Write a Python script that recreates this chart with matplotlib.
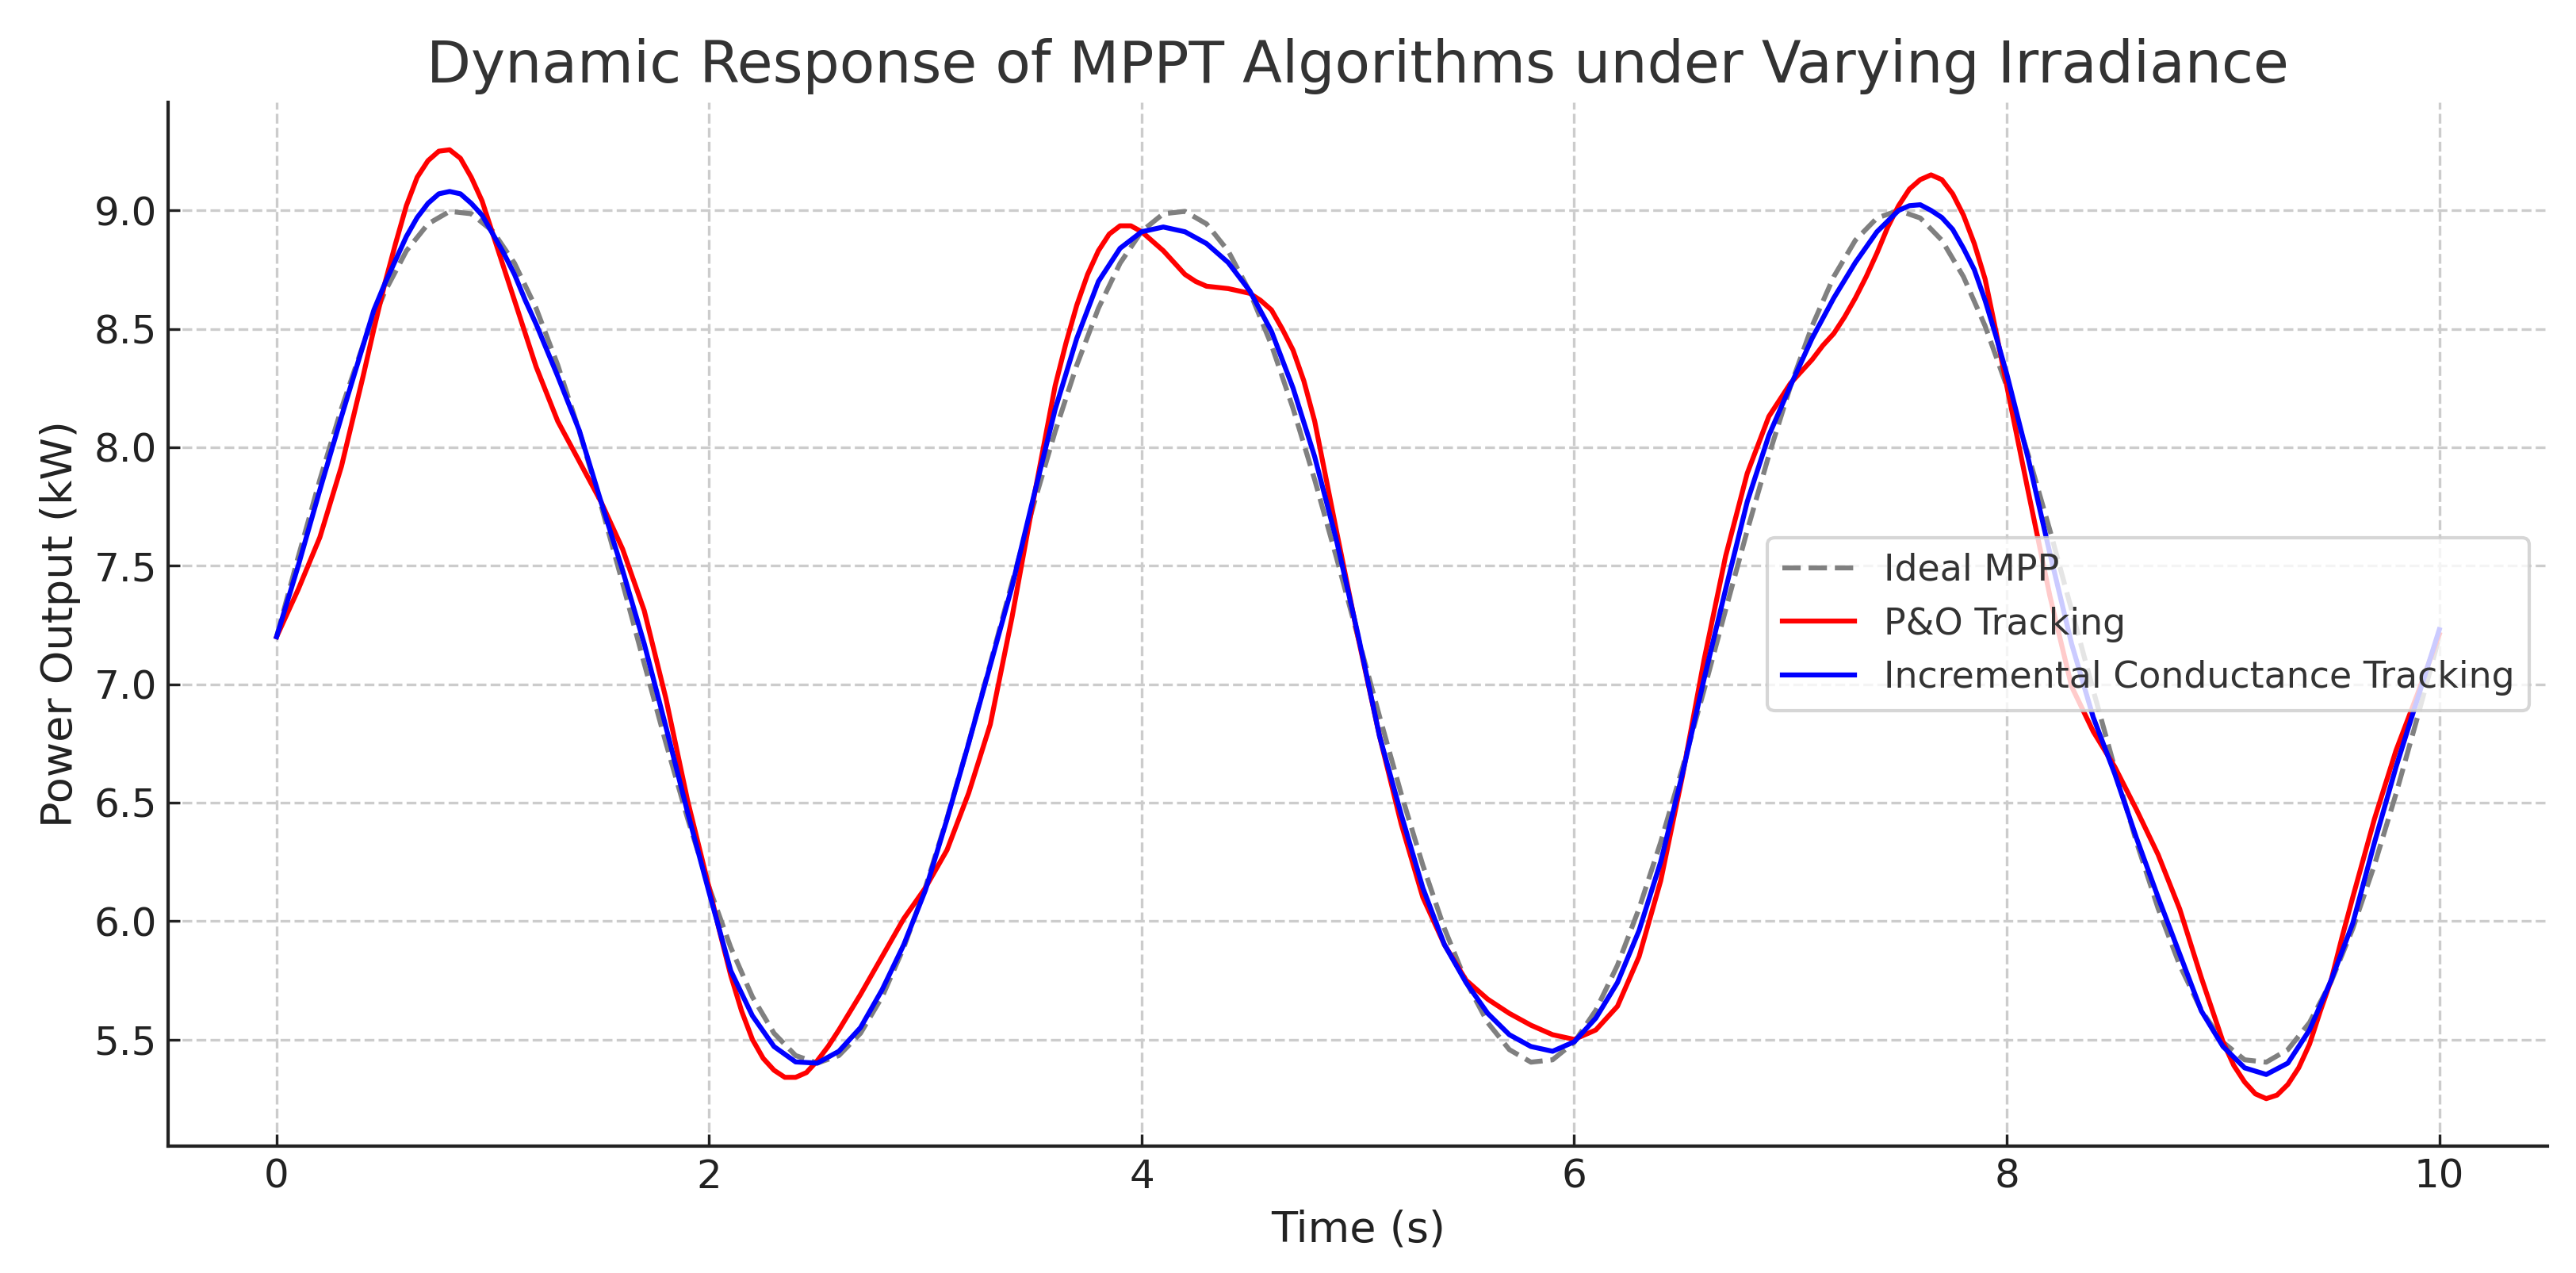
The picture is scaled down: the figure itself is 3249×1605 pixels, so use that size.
import numpy as np
import matplotlib
matplotlib.use("Agg")
import matplotlib.pyplot as plt

# Ideal-Kurve, Schritt 0.1 s
t_ideal = np.round(np.arange(0, 10.01, 0.1), 2)
ideal = [
    7.200, 7.537, 7.863, 8.164, 8.432, 8.656, 8.829, 8.943, 8.996, 8.986,
    8.912, 8.777, 8.587, 8.347, 8.067, 7.756, 7.426, 7.087, 6.752, 6.434,
    6.142, 5.888, 5.680, 5.526, 5.432, 5.400, 5.432, 5.526, 5.680, 5.888,
    6.142, 6.434, 6.752, 7.087, 7.426, 7.756, 8.067, 8.347, 8.587, 8.777,
    8.912, 8.986, 8.996, 8.943, 8.829, 8.656, 8.432, 8.164, 7.863, 7.537,
    7.200, 6.863, 6.537, 6.236, 5.968, 5.744, 5.571, 5.457, 5.404, 5.414,
    5.488, 5.623, 5.813, 6.053, 6.333, 6.644, 6.974, 7.313, 7.648, 7.966,
    8.258, 8.512, 8.720, 8.874, 8.968, 9.000, 8.968, 8.874, 8.720, 8.512,
    8.258, 7.966, 7.648, 7.313, 6.974, 6.644, 6.333, 6.053, 5.813, 5.623,
    5.488, 5.414, 5.404, 5.457, 5.571, 5.744, 5.968, 6.236, 6.537, 6.863,
    7.200,
]

t_po = [
    0.0, 0.1, 0.2, 0.3, 0.4, 0.45, 0.5, 0.55, 0.6, 0.65, 0.7, 0.75, 0.8, 0.85,
    0.9, 0.95, 1.0, 1.05, 1.1, 1.15, 1.2, 1.3, 1.4, 1.5, 1.6, 1.7, 1.8, 1.9,
    2.0, 2.05, 2.1, 2.15, 2.2, 2.25, 2.3, 2.35, 2.4, 2.45, 2.5, 2.55, 2.6, 2.7,
    2.8, 2.9, 3.0, 3.1, 3.2, 3.3, 3.4, 3.5, 3.6, 3.65, 3.7, 3.75, 3.8, 3.85,
    3.9, 3.95, 4.0, 4.05, 4.1, 4.15, 4.2, 4.25, 4.3, 4.4, 4.5, 4.55, 4.6, 4.65,
    4.7, 4.75, 4.8, 4.9, 5.0, 5.1, 5.2, 5.3, 5.4, 5.5, 5.6, 5.7, 5.8, 5.9,
    6.0, 6.1, 6.2, 6.3, 6.4, 6.5, 6.6, 6.7, 6.8, 6.9, 7.0, 7.1, 7.15, 7.2,
    7.25, 7.3, 7.35, 7.4, 7.45, 7.5, 7.55, 7.6, 7.65, 7.7, 7.75, 7.8, 7.85,
    7.9, 7.95, 8.0, 8.1, 8.2, 8.3, 8.4, 8.5, 8.6, 8.7, 8.8, 8.9, 9.0, 9.05,
    9.1, 9.15, 9.2, 9.25, 9.3, 9.35, 9.4, 9.45, 9.5, 9.55, 9.6, 9.7, 9.8,
    9.9, 10.0,
]
po = [
    7.20, 7.40, 7.62, 7.92, 8.30, 8.50, 8.69, 8.86, 9.02, 9.14, 9.21, 9.25, 9.256, 9.22,
    9.14, 9.04, 8.90, 8.76, 8.62, 8.48, 8.34, 8.11, 7.94, 7.77, 7.57, 7.31, 6.94, 6.51,
    6.14, 5.95, 5.77, 5.62, 5.50, 5.42, 5.37, 5.34, 5.34, 5.36, 5.41, 5.47, 5.54, 5.69,
    5.85, 6.01, 6.14, 6.30, 6.54, 6.83, 7.28, 7.78, 8.26, 8.44, 8.60, 8.73, 8.83, 8.90,
    8.935, 8.935, 8.91, 8.87, 8.83, 8.78, 8.73, 8.70, 8.68, 8.67, 8.65, 8.62, 8.58, 8.50,
    8.41, 8.28, 8.11, 7.65, 7.20, 6.78, 6.41, 6.10, 5.90, 5.75, 5.67, 5.61, 5.56, 5.52,
    5.50, 5.54, 5.64, 5.85, 6.17, 6.61, 7.10, 7.54, 7.89, 8.13, 8.27, 8.37, 8.43, 8.48,
    8.55, 8.63, 8.72, 8.82, 8.93, 9.02, 9.09, 9.13, 9.15, 9.13, 9.07, 8.98, 8.86,
    8.71, 8.49, 8.26, 7.81, 7.37, 6.99, 6.80, 6.65, 6.47, 6.28, 6.05, 5.76, 5.49, 5.39,
    5.32, 5.27, 5.25, 5.265, 5.31, 5.38, 5.48, 5.62, 5.75, 5.93, 6.10, 6.43, 6.72,
    6.96, 7.21,
]

# Incremental Conductance
t_inc = [
    0.0, 0.1, 0.2, 0.3, 0.4, 0.45, 0.5, 0.55, 0.6, 0.65, 0.7, 0.75, 0.8, 0.85,
    0.9, 0.95, 1.0, 1.05, 1.1, 1.15, 1.2, 1.3, 1.4, 1.5, 1.6, 1.7, 1.8, 1.9,
    2.0, 2.1, 2.2, 2.3, 2.4, 2.5, 2.6, 2.7, 2.8, 2.9, 3.0, 3.1, 3.2, 3.3, 3.4,
    3.5, 3.6, 3.7, 3.8, 3.9, 4.0, 4.1, 4.2, 4.3, 4.4, 4.5, 4.6, 4.7, 4.8, 4.9,
    5.0, 5.1, 5.2, 5.3, 5.4, 5.5, 5.6, 5.7, 5.8, 5.9, 6.0, 6.1, 6.2, 6.3, 6.4,
    6.5, 6.6, 6.7, 6.8, 6.9, 7.0, 7.1, 7.2, 7.3, 7.4, 7.5, 7.55, 7.6, 7.65,
    7.7, 7.75, 7.8, 7.85, 7.9, 7.95, 8.0, 8.1, 8.2, 8.3, 8.4, 8.5, 8.6, 8.7,
    8.8, 8.9, 9.0, 9.1, 9.2, 9.3, 9.4, 9.5, 9.6, 9.7, 9.8, 9.9, 10.0,
]
inc = [
    7.20, 7.50, 7.82, 8.13, 8.43, 8.58, 8.69, 8.79, 8.89, 8.97, 9.03, 9.07, 9.08, 9.07,
    9.03, 8.98, 8.90, 8.82, 8.73, 8.62, 8.52, 8.30, 8.07, 7.77, 7.48, 7.17, 6.82, 6.46,
    6.12, 5.79, 5.60, 5.47, 5.405, 5.40, 5.45, 5.55, 5.71, 5.90, 6.13, 6.43, 6.75, 7.08, 7.41,
    7.79, 8.16, 8.46, 8.70, 8.84, 8.91, 8.93, 8.91, 8.86, 8.78, 8.66, 8.49, 8.25, 7.96, 7.61,
    7.21, 6.78, 6.45, 6.14, 5.90, 5.74, 5.61, 5.52, 5.47, 5.45, 5.49, 5.59, 5.74, 5.96, 6.25,
    6.62, 7.02, 7.40, 7.77, 8.05, 8.26, 8.46, 8.63, 8.78, 8.91, 9.00, 9.02, 9.024, 9.00,
    8.97, 8.92, 8.84, 8.75, 8.62, 8.47, 8.31, 7.95, 7.55, 7.17, 6.86, 6.62, 6.35, 6.10,
    5.86, 5.62, 5.47, 5.38, 5.352, 5.40, 5.54, 5.75, 5.99, 6.33, 6.65, 6.94, 7.23,
]

fig = plt.figure(figsize=(10.83, 5.35), dpi=300)
ax = fig.add_axes([0.0654, 0.0997, 0.9235, 0.8199])

ax.plot(t_ideal, ideal, linestyle='--', color='gray', linewidth=1.5, label='Ideal MPP')
ax.plot(t_po, po, color='red', linewidth=1.5, label='P&O Tracking')
ax.plot(t_inc, inc, color='blue', linewidth=1.5, label='Incremental Conductance Tracking')

ax.set_title('Dynamic Response of MPPT Algorithms under Varying Irradiance',
             fontsize=17.5, color='#333333')
ax.set_xlabel('Time (s)', fontsize=13, color='#222222')
ax.set_ylabel('Power Output (kW)', fontsize=13, color='#222222')

ax.grid(True, linestyle='--', linewidth=0.8, color='#cccccc')
ax.set_axisbelow(True)
ax.tick_params(direction='in', labelsize=12, colors='#222222')
for s in ['top', 'right']:
    ax.spines[s].set_visible(False)
for s in ['left', 'bottom']:
    ax.spines[s].set_color('#222222')
    ax.spines[s].set_linewidth(1.0)

leg = ax.legend(loc='center right', fontsize=11, edgecolor='#cccccc')
for txt in leg.get_texts():
    txt.set_color('#333333')

fig.savefig('out.png', dpi=300)
